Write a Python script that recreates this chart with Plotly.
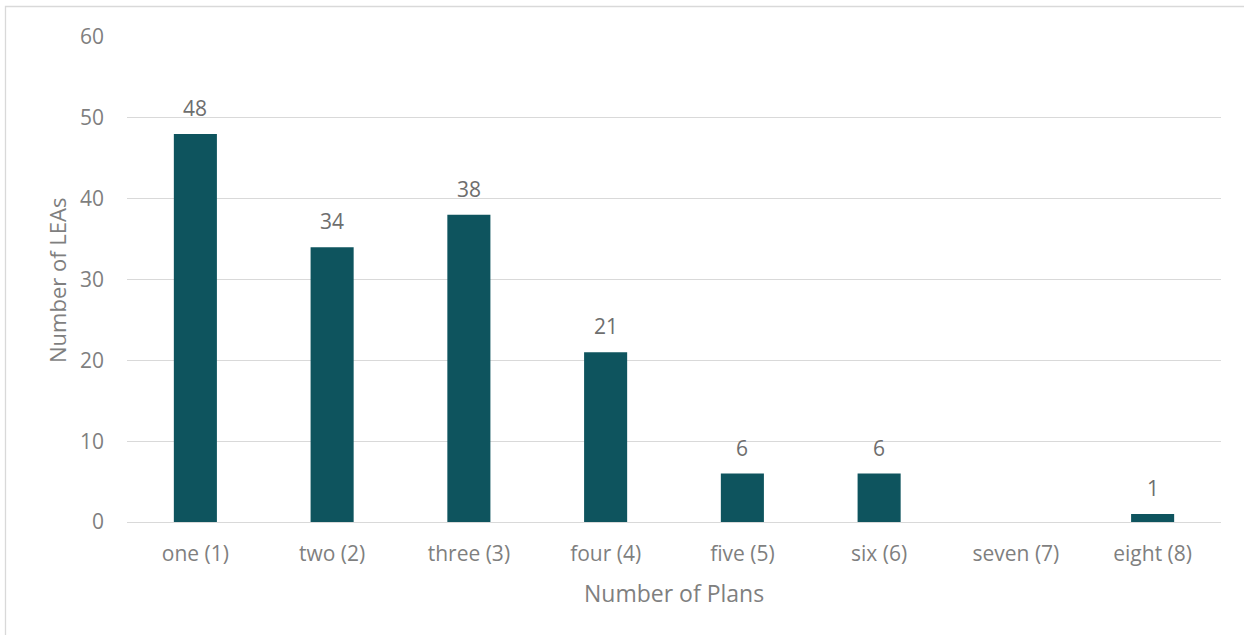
import plotly.graph_objects as go

categories = ["one (1)", "two (2)", "three (3)", "four (4)", "five (5)", "six (6)", "seven (7)", "eight (8)"]
values = [48, 34, 38, 21, 6, 6, None, 1]
y_ticks = [0, 10, 20, 30, 40, 50, 60]
x_title = "Number of Plans"
y_title = "Number of LEAs"

W, H = 1244, 635
L, R, T, B = 127, 1221, 37, 522
pw, ph = R - L, B - T

def px(x):
    return (x - L) / pw

def py(y):
    return (B - y) / ph

gray = "#7F7F7F"
label_gray = "#6E6E6E"
font_family = "Open Sans, sans-serif"
fs = 21

fig = go.Figure(go.Bar(
    x=categories, y=values,
    marker=dict(color="#0E545E", line=dict(width=0)),
    hoverinfo="x+y",
))

annotations = []
for c, v in zip(categories, values):
    if v is None:
        continue
    annotations.append(dict(
        x=c, y=v, xref="x", yref="y", text=str(v), showarrow=False,
        yanchor="middle", yshift=26,
        font=dict(size=fs, color=label_gray, family=font_family),
    ))
annotations.append(dict(
    x=0.5, y=py(593), xref="paper", yref="paper", text=x_title, showarrow=False,
    xanchor="center", yanchor="middle",
    font=dict(size=23, color=gray, family=font_family),
))
annotations.append(dict(
    x=px(57), y=py(281), xref="paper", yref="paper", text=y_title, showarrow=False,
    xanchor="center", yanchor="middle", textangle=-90,
    font=dict(size=22, color=gray, family=font_family),
))

fig.update_layout(
    width=W, height=H,
    margin=dict(l=L, r=W - R, t=T, b=H - B),
    paper_bgcolor="white", plot_bgcolor="white",
    bargap=0.685,
    showlegend=False,
    font=dict(family=font_family, color=gray, size=fs),
    xaxis=dict(
        showgrid=False, showline=False, ticks="",
        tickfont=dict(size=fs, color=gray),
        ticklabelstandoff=17,
    ),
    yaxis=dict(
        range=[0, 60], tickvals=y_ticks,
        showgrid=True, gridcolor="#D9D9D9", gridwidth=1.3,
        zeroline=True, zerolinecolor="#D9D9D9", zerolinewidth=1.3,
        showline=False, ticks="",
        tickfont=dict(size=fs, color=gray),
        ticklabelstandoff=22,
    ),
    annotations=annotations,
    shapes=[dict(
        type="rect", xref="paper", yref="paper",
        x0=px(5.5), x1=px(1260), y0=py(6.5), y1=py(650),
        line=dict(color="#D9D9D9", width=1.3), fillcolor="rgba(0,0,0,0)",
        layer="below",
    )],
)

fig.write_html("out.html")
